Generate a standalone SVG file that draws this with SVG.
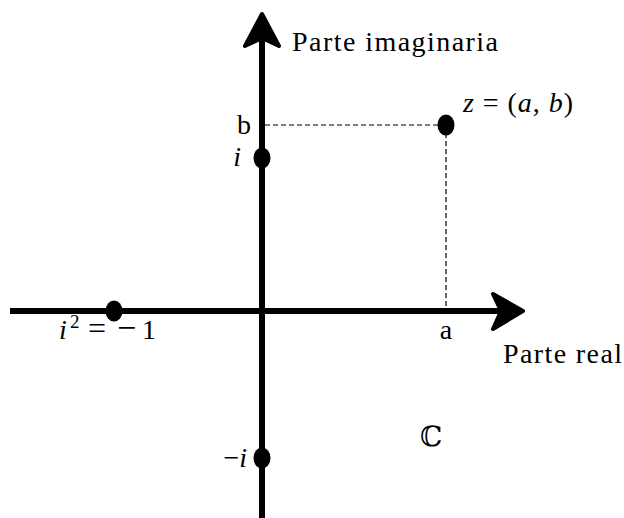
<svg xmlns="http://www.w3.org/2000/svg" width="624" height="518" viewBox="0 0 624 518">
<style>
.t{font-family:"Liberation Serif","DejaVu Serif",serif;font-size:28px;fill:#000}
.m{font-style:italic}
.axis{stroke:#000;stroke-width:6;fill:none}
.dash{stroke:#000;stroke-width:1.2;stroke-dasharray:5,3;fill:none}
.head{fill:#000;stroke:#000;stroke-width:4;stroke-linejoin:round}
</style>
<rect width="624" height="518" fill="#fff"/>
<g id="connectors">
<line class="dash" x1="265" y1="125" x2="446" y2="125"/>
<line class="dash" x1="446" y1="125" x2="446" y2="311"/>
<line id="real-axis" class="axis" x1="10" y1="311" x2="500" y2="311"/>
<polygon class="head" points="523,311 493,294 501,311 493,329"/>
<line id="imag-axis" class="axis" x1="262" y1="518" x2="262" y2="40"/>
<polygon class="head" points="262,14 245,46 262,38 279,46"/>
</g>
<g id="node-i"><ellipse cx="262" cy="158" rx="8.5" ry="10.5"/><text class="t m" x="241" y="166" text-anchor="end">i</text></g>
<g id="node-z"><ellipse cx="446" cy="125" rx="8.5" ry="10.5"/><text class="t" x="463" y="112" textLength="110" lengthAdjust="spacing"><tspan class="m">z</tspan> = (<tspan class="m">a</tspan>, <tspan class="m">b</tspan>)</text></g>
<g id="node-minus1"><ellipse cx="114" cy="311" rx="8.5" ry="10.5"/><text class="t" y="339"><tspan class="m" x="59">i</tspan><tspan font-size="19" x="70" y="328">2</tspan><tspan x="88" y="339" font-size="32">=</tspan><tspan x="117" font-size="34">−</tspan><tspan x="142">1</tspan></text></g>
<g id="node-minusi"><ellipse cx="262" cy="458" rx="8.5" ry="10.5"/><text class="t" x="247" y="467" text-anchor="end">−<tspan class="m">i</tspan></text></g>
<g id="labels">
<text class="t" x="292" y="51" textLength="206" lengthAdjust="spacing">Parte imaginaria</text>
<text class="t" x="503" y="363" textLength="119" lengthAdjust="spacing">Parte real</text>
<text class="t" x="251" y="134" text-anchor="end">b</text>
<text class="t" x="446" y="339" text-anchor="middle">a</text>
<text class="t" x="420" y="446">ℂ</text>
</g>
</svg>
